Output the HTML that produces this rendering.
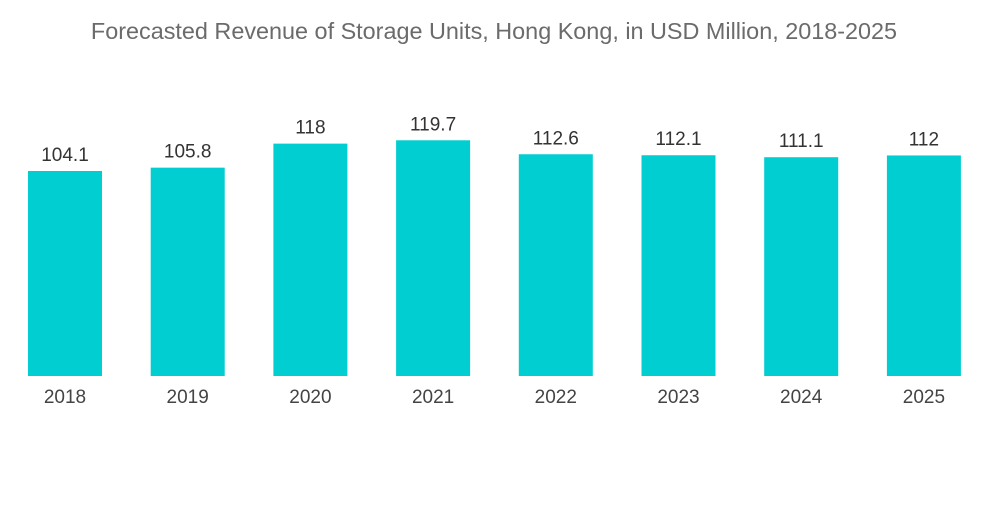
<!DOCTYPE html>
<html><head><meta charset="utf-8"><style>
body{margin:0;background:#fff;width:1000px;height:504px;overflow:hidden;font-family:"Liberation Sans",sans-serif}
</style></head><body>
<svg id="chart" width="1000" height="504">
<text x="494" y="39" text-anchor="middle" font-size="23.4" fill="#6b6b6b">Forecasted Revenue of Storage Units, Hong Kong, in USD Million, 2018-2025</text>
<g id="bars"></g>
</svg>
<script>
const categories=["2018","2019","2020","2021","2022","2023","2024","2025"];
const values=[104.1,105.8,118,119.7,112.6,112.1,111.1,112];
const valueLabels=["104.1","105.8","118","119.7","112.6","112.1","111.1","112"];
const baseY=376, scale=205/104.1, x0=28, step=122.7, bw=74;
const y=v=>baseY-v*scale;
const xPos=i=>x0+i*step;
const g=document.getElementById('bars');
const ns='http://www.w3.org/2000/svg';
categories.forEach((c,i)=>{
  const r=document.createElementNS(ns,'rect');
  r.setAttribute('x',xPos(i));r.setAttribute('y',y(values[i]));
  r.setAttribute('width',bw);r.setAttribute('height',baseY-y(values[i]));
  r.setAttribute('fill','#00ced1');
  
  
  g.appendChild(r);
  const t=document.createElementNS(ns,'text');
  t.setAttribute('x',xPos(i)+bw/2);t.setAttribute('y',y(values[i])-10);
  t.setAttribute('text-anchor','middle');t.setAttribute('font-size','19');t.setAttribute('fill','#333');
  t.textContent=valueLabels[i];
  
  
  g.appendChild(t);
  const l=document.createElementNS(ns,'text');
  l.setAttribute('x',xPos(i)+bw/2);l.setAttribute('y',403);
  l.setAttribute('text-anchor','middle');l.setAttribute('font-size','19');l.setAttribute('fill','#444');
  l.textContent=c;
  
  
  g.appendChild(l);
});
</script>
</body></html>
